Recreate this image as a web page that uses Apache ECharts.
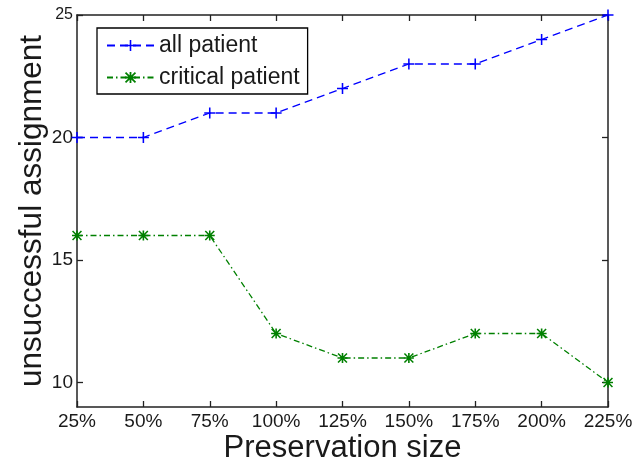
<!DOCTYPE html>
<html><head><meta charset="utf-8">
<script src="https://cdn.jsdelivr.net/npm/echarts@6/dist/echarts.min.js"></script>
<style>html,body{margin:0;padding:0;background:#fff}#c{width:637px;height:463px}</style>
</head><body><div id="c"></div>
<script>
const categories = ['25%','50%','75%','100%','125%','150%','175%','200%','225%'];
const allPatient = [20,20,21,21,22,23,23,24,25];
const criticalPatient = [16,16,16,12,11,11,12,12,10];
const yTicks = [10,15,20,25];

const plusPath = 'path://M0,4.3H10V5.7H0Z M4.3,0H5.7V10H4.3Z';
const starPath = 'path://M0,4.2H10V5.8H0Z M4.2,0H5.8V10H4.2Z M1.1,0L10,8.9L8.9,10L0,1.1Z M8.9,0L10,1.1L1.1,10L0,8.9Z';
const font = 'Liberation Sans, Arial, sans-serif';
const axisCol = '#222';
const txtCol = '#1a1a1a';

const chart = echarts.init(document.getElementById('c'));
chart.setOption({
  animation: false,
  backgroundColor: '#fff',
  grid: {left: 77, right: 29, top: 15, bottom: 56, containLabel: false, outerBoundsMode: 'none'},
  legend: {
    left: 97, top: 28, orient: 'vertical',
    padding: [6, 8, 5, 9],
    itemWidth: 47, itemHeight: 14, itemGap: 9,
    borderColor: '#000', borderWidth: 1.3,
    textStyle: {fontFamily: font, fontSize: 23, lineHeight: 23, color: txtCol},
    data: ['all patient', 'critical patient']
  },
  xAxis: [{
    type: 'category', data: categories, boundaryGap: false,
    name: 'Preservation size', nameLocation: 'middle', nameGap: 26, nameMoveOverlap: false,
    nameTextStyle: {fontFamily: font, fontSize: 31, color: txtCol},
    axisLine: {lineStyle: {color: axisCol, width: 1.5}},
    axisTick: {inside: true, length: 6, lineStyle: {color: axisCol, width: 1.3}},
    axisLabel: {fontFamily: font, fontSize: 19, color: txtCol, margin: 5},
    splitLine: {show: false}
  }, {
    type: 'category', data: categories, boundaryGap: false, position: 'top',
    axisLine: {lineStyle: {color: axisCol, width: 1.5}},
    axisTick: {inside: true, length: 6, lineStyle: {color: axisCol, width: 1.3}},
    axisLabel: {show: false}, splitLine: {show: false}
  }],
  yAxis: [{
    type: 'value', min: 9, max: 25,
    name: 'unsuccessful assignment', nameLocation: 'middle', nameGap: 29, nameMoveOverlap: false,
    nameTextStyle: {fontFamily: font, fontSize: 31.5, color: txtCol},
    axisLine: {show: true, lineStyle: {color: axisCol, width: 1.5}},
    axisTick: {show: true, inside: true, length: 6, customValues: yTicks, lineStyle: {color: axisCol, width: 1.3}},
    axisLabel: {
      fontFamily: font, fontSize: 19, color: txtCol, margin: 4, customValues: yTicks,
      formatter: function (v) { return v === 25 ? '{s|' + v + '}' : String(v); },
      rich: {s: {fontFamily: font, fontSize: 16, color: txtCol}}
    },
    splitLine: {show: false}
  }, {
    type: 'value', min: 9, max: 25, position: 'right',
    axisLine: {show: true, lineStyle: {color: axisCol, width: 1.5}},
    axisTick: {show: true, inside: true, length: 6, customValues: yTicks, lineStyle: {color: axisCol, width: 1.3}},
    axisLabel: {show: false, customValues: yTicks},
    splitLine: {show: false}
  }],
  series: [{
    name: 'all patient', type: 'line', data: allPatient,
    symbol: plusPath, symbolSize: 11, showSymbol: true,
    lineStyle: {color: '#0000ff', width: 1.3, type: [8, 5]},
    itemStyle: {color: '#0000ff'},
    z: 3
  }, {
    name: 'critical patient', type: 'line', data: criticalPatient,
    symbol: starPath, symbolSize: 10, showSymbol: true,
    lineStyle: {color: '#008000', width: 1.3, type: [6, 3, 1.5, 3]},
    itemStyle: {color: '#008000'},
    z: 3
  }]
});
</script></body></html>
